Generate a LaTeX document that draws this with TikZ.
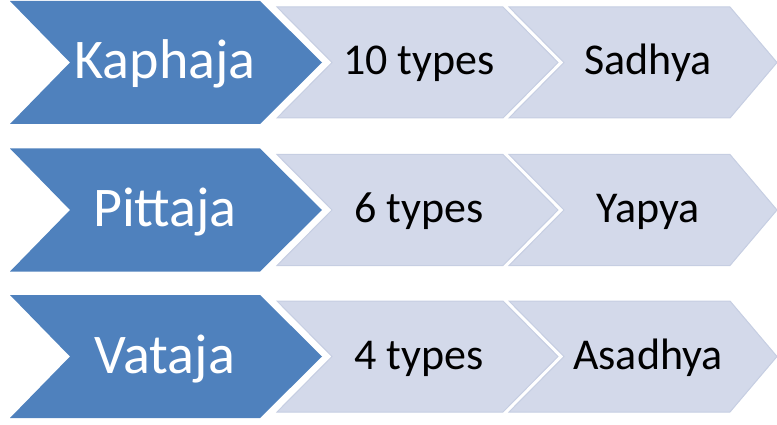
\documentclass[tikz,border=0pt]{standalone}
\usepackage{fontspec}
\setmainfont{Carlito}
\definecolor{accblue}{HTML}{4F81BD}
\definecolor{lightfill}{HTML}{D3D9EA}
\definecolor{lightline}{HTML}{C6CEE2}
\tikzset{
  bluechev/.style={fill=accblue, draw=none},
  lightchev/.style={fill=lightfill, draw=lightline, line width=1pt, line join=miter},
  bigtxt/.style={text=white, font=\fontsize{56}{60}\selectfont, anchor=base, inner sep=0pt},
  smalltxt/.style={text=black, font=\fontsize{44}{50}\selectfont, anchor=base, inner sep=0pt}
}
\newcommand\chevrow[6]{%
  % #1 center y, #2 name prefix, #3 big text, #4 mid text, #5 right text
  \fill[bluechev] (10,#1-61.5) -- (260,#1-61.5) -- (322,#1) -- (260,#1+61.5) -- (10,#1+61.5) -- (70,#1) -- cycle;
  \draw[lightchev] (277,#1-55.5) -- (503,#1-55.5) -- (558,#1) -- (503,#1+55.5) -- (277,#1+55.5) -- (332,#1) -- cycle;
  \draw[lightchev] (509,#1-55.5) -- (730,#1-55.5) -- (777,#1) -- (730,#1+55.5) -- (509,#1+55.5) -- (564,#1) -- cycle;
  \node[bigtxt] (#2a) at (165,#1+16.5) {#3};
  \node[smalltxt] (#2b) at (419,#1+12.5) {#4};
  \node[smalltxt] (#2c) at (648,#1+12.5) {#5};
}
\begin{document}
\begin{tikzpicture}[x=1pt,y=-1pt]
\useasboundingbox (0,0) rectangle (777,425);
\chevrow{62.5}{ra}{Kaphaja}{10 types}{Sadhya}{}
\chevrow{210}{rb}{Pittaja}{6 types}{Yapya}{}
\chevrow{356.5}{rc}{Vataja}{4 types}{Asadhya}{}
\end{tikzpicture}
\end{document}
